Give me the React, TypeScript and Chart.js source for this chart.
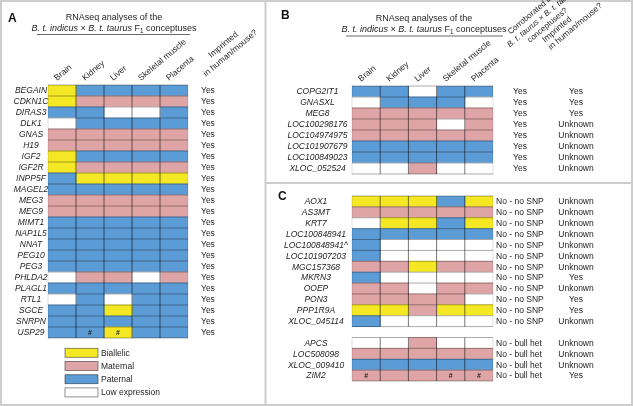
import { useEffect, useRef } from 'react';
import { Chart, registerables } from 'chart.js';
Chart.register(...registerables);

// ---------- data ----------
const TISSUES = ['Brain', 'Kidney', 'Liver', 'Skeletal muscle', 'Placenta'];
// status codes per tissue: Y = biallelic, M = maternal, P = paternal, L = low expression
const LEGEND_KEYS = ['Y', 'M', 'P', 'L'];
const LEGEND_LABELS = ['Biallelic', 'Maternal', 'Paternal', 'Low expression'];

const A_GENES = ['BEGAIN', 'CDKN1C', 'DIRAS3', 'DLK1', 'GNAS', 'H19', 'IGF2', 'IGF2R', 'INPP5F', 'MAGEL2', 'MEG3', 'MEG9', 'MIMT1', 'NAP1L5', 'NNAT', 'PEG10', 'PEG3', 'PHLDA2', 'PLAGL1', 'RTL1', 'SGCE', 'SNRPN', 'USP29'];
const A_STATUS = ['YPPPP', 'YMMMM', 'PPLLP', 'LPPPP', 'MMMMM', 'MMMMM', 'YPPPP', 'YMMMM', 'PYYYY', 'PPPPP', 'MMMMM', 'MMMMM', 'PPPPP', 'PPPPP', 'PPPPP', 'PPPPP', 'PPPPP', 'LMMLM', 'PPPPP', 'LPLPP', 'PPYPP', 'PPPPP', 'PPYPP'];
const A_IMPRINTED = ['Yes', 'Yes', 'Yes', 'Yes', 'Yes', 'Yes', 'Yes', 'Yes', 'Yes', 'Yes', 'Yes', 'Yes', 'Yes', 'Yes', 'Yes', 'Yes', 'Yes', 'Yes', 'Yes', 'Yes', 'Yes', 'Yes', 'Yes'];
const A_HASH: [string, number][] = [['USP29', 1], ['USP29', 2]];

const B_GENES = ['COPG2IT1', 'GNASXL', 'MEG8', 'LOC100298176', 'LOC104974975', 'LOC101907679', 'LOC100849023', 'XLOC_052524'];
const B_STATUS = ['PPLPP', 'LPPPL', 'MMMMM', 'MMMLM', 'MMMMM', 'PPPPP', 'PPPPP', 'LLMLL'];
const B_CORROB = ['Yes', 'Yes', 'Yes', 'Yes', 'Yes', 'Yes', 'Yes', 'Yes'];
const B_IMPRINTED = ['Yes', 'Yes', 'Yes', 'Unknown', 'Unknown', 'Unknown', 'Unknown', 'Unknown'];

const C_GENES = ['AOX1', 'AS3MT', 'KRT7', 'LOC100848941', 'LOC100848941^', 'LOC101907203', 'MGC157368', 'MKRN3', 'OOEP', 'PON3', 'PPP1R9A', 'XLOC_045114', '', 'APCS', 'LOC508098', 'XLOC_009410', 'ZIM2'];
const C_STATUS = ['YYYPY', 'MMMMM', 'LYYPY', 'PPPPP', 'PLLLL', 'PLLLL', 'MMYMM', 'PLLLL', 'MMLMM', 'MMMML', 'YYMYY', 'PLLLL', '', 'LLMLL', 'MMMMM', 'PPPPP', 'MMMMM'];
const C_CORROB = ['No - no SNP', 'No - no SNP', 'No - no SNP', 'No - no SNP', 'No - no SNP', 'No - no SNP', 'No - no SNP', 'No - no SNP', 'No - no SNP', 'No - no SNP', 'No - no SNP', 'No - no SNP', '', 'No - bull het', 'No - bull het', 'No - bull het', 'No - bull het'];
const C_IMPRINTED = ['Unknown', 'Unknown', 'Unknown', 'Unknown', 'Unkonwn', 'Unknown', 'Unknown', 'Yes', 'Unkonwn', 'Yes', 'Yes', 'Unkonwn', '', 'Unknown', 'Unknown', 'Unknown', 'Yes'];
const C_HASH: [string, number][] = [['ZIM2', 0], ['ZIM2', 3], ['ZIM2', 4]];

// ---------- styles ----------
const FONT = '"Liberation Sans", Arial, Helvetica, sans-serif';
const COLORS: Record<string, string> = { Y: '#f4e824', M: '#dfa4a5', P: '#5b9bd6', L: '#ffffff' };
const TXT = '#1e1e1e';
const FS = 8.5;
const ANG = 40;

type Seg = { t: string; i?: boolean; sub?: boolean };

function font(size: number, italic = false, bold = false) {
  return `${italic ? 'italic ' : ''}${bold ? 'bold ' : ''}${size}px ${FONT}`;
}

function drawRich(ctx: CanvasRenderingContext2D, segs: Seg[], x: number, y: number, align: string, size: number) {
  const widths = segs.map((s) => {
    ctx.font = font(s.sub ? size * 0.7 : size, !!s.i);
    return ctx.measureText(s.t).width;
  });
  const total = widths.reduce((a, b) => a + b, 0);
  let cx = align === 'center' ? x - total / 2 : align === 'right' ? x - total : x;
  ctx.textAlign = 'left';
  ctx.textBaseline = 'alphabetic';
  segs.forEach((s, k) => {
    ctx.font = font(s.sub ? size * 0.7 : size, !!s.i);
    ctx.fillText(s.t, cx, y + (s.sub ? size * 0.25 : 0));
    cx += widths[k];
  });
}

function rotRich(ctx: CanvasRenderingContext2D, lines: Seg[][], x: number, y: number, deg: number, align: string, lh: number, size: number) {
  ctx.save();
  ctx.translate(x, y);
  ctx.rotate((-deg * Math.PI) / 180);
  const n = lines.length;
  lines.forEach((l, k) => drawRich(ctx, l, 0, -(n - 1 - k) * lh, align, size));
  ctx.restore();
}

const TITLE2: Seg[] = [{ t: 'B. t. indicus', i: true }, { t: ' × ' }, { t: 'B. t. taurus', i: true }, { t: ' F' }, { t: '1', sub: true }, { t: ' conceptuses' }];

function rowH(chart: any) {
  const ys = chart.scales.y;
  return (ys.bottom - ys.top) / ys.getLabels().length;
}

function drawGrid(chart: any, status: string[]) {
  const { ctx } = chart;
  const xs = chart.scales.x;
  const ys = chart.scales.y;
  const h = rowH(chart);
  const n = status.length;
  const x0 = xs.getPixelForValue(0);
  const x5 = xs.getPixelForValue(5);
  const hp = new Path2D();
  const vp = new Path2D();
  const op = new Path2D();
  let i = 0;
  while (i < n) {
    if (!status[i]) { i++; continue; }
    let j = i;
    while (j < n && status[j]) j++;
    const top = ys.getPixelForValue(i) - h / 2;
    const bot = ys.getPixelForValue(j - 1) + h / 2;
    for (let k = i; k <= j; k++) {
      const y = k === j ? bot : ys.getPixelForValue(k) - h / 2;
      hp.moveTo(x0, y);
      hp.lineTo(x5, y);
    }
    for (let c = 1; c <= 4; c++) {
      const x = xs.getPixelForValue(c);
      vp.moveTo(x, top);
      vp.lineTo(x, bot);
    }
    op.moveTo(x0, top); op.lineTo(x0, bot);
    op.moveTo(x5, top); op.lineTo(x5, bot);
    i = j;
  }
  ctx.save();
  ctx.lineWidth = 1;
  ctx.strokeStyle = 'rgba(0,0,0,0.33)';
  ctx.stroke(hp);
  ctx.lineWidth = 0.9;
  ctx.strokeStyle = 'rgba(0,0,0,0.6)';
  ctx.stroke(vp);
  ctx.lineWidth = 0.8;
  ctx.strokeStyle = 'rgba(0,0,0,0.15)';
  ctx.stroke(op);
  ctx.restore();
}

function drawHashes(chart: any, genes: string[], hashes: [string, number][]) {
  const { ctx } = chart;
  const xs = chart.scales.x;
  const ys = chart.scales.y;
  ctx.save();
  ctx.font = font(7, false, true);
  ctx.fillStyle = TXT;
  ctx.textAlign = 'center';
  ctx.textBaseline = 'middle';
  hashes.forEach(([g, c]) => {
    const gi = genes.indexOf(g);
    ctx.fillText('#', xs.getPixelForValue(c + 0.5), ys.getPixelForValue(gi) + 0.5);
  });
  ctx.restore();
}

function drawRowTexts(chart: any, texts: string[], x: number, align: CanvasTextAlign, italic: boolean) {
  const { ctx } = chart;
  const ys = chart.scales.y;
  ctx.save();
  ctx.font = font(FS, italic);
  ctx.fillStyle = TXT;
  ctx.textAlign = align;
  ctx.textBaseline = 'middle';
  texts.forEach((t, i) => { if (t) ctx.fillText(t, x, ys.getPixelForValue(i) + 0.5); });
  ctx.restore();
}

function drawColHeaders(chart: any, baseY: number) {
  const { ctx } = chart;
  const xs = chart.scales.x;
  ctx.save();
  ctx.fillStyle = TXT;
  TISSUES.forEach((t, ti) => {
    rotRich(ctx, [[{ t }]], xs.getPixelForValue(ti + 0.5) - 5, baseY, ANG, 'left', 11, FS);
  });
  ctx.restore();
}

function makeChart(canvas: HTMLCanvasElement, genes: string[], status: string[], pad: any, draw: (chart: any) => void, before?: (chart: any) => void) {
  return new Chart(canvas, {
    type: 'bar',
    data: {
      labels: genes,
      datasets: TISSUES.map((t, ti) => ({
        label: t,
        data: genes.map((_, gi) => (status[gi] ? 1 : null)),
        backgroundColor: genes.map((_, gi) => (status[gi] ? COLORS[status[gi][ti]] : 'rgba(0,0,0,0)')),
        borderWidth: 0,
        barPercentage: 1,
        categoryPercentage: 1,
        inflateAmount: 0.4,
      })),
    },
    options: {
      indexAxis: 'y',
      responsive: false,
      animation: false,
      devicePixelRatio: 1,
      events: [],
      layout: { padding: pad },
      scales: {
        x: { type: 'linear', min: 0, max: 5, stacked: true, display: false },
        y: { type: 'category', stacked: true, display: false, offset: true },
      },
      plugins: { legend: { display: false }, tooltip: { enabled: false } },
    } as any,
    plugins: [{
      id: 'panel',
      beforeDraw: (chart: any) => { if (before) before(chart); },
      afterDatasetsDraw: (chart: any) => draw(chart),
    }],
  });
}

function drawFrame(chart: any) {
  const { ctx } = chart;
  ctx.save();
  ctx.fillStyle = '#ffffff';
  ctx.fillRect(0, 0, 633, 406);
  ctx.strokeStyle = '#cdcdcd';
  ctx.lineWidth = 2;
  ctx.strokeRect(1, 1, 631, 404);
  ctx.beginPath();
  ctx.moveTo(265.5, 0); ctx.lineTo(265.5, 406);
  ctx.moveTo(265, 183); ctx.lineTo(633, 183);
  ctx.stroke();
  ctx.restore();
}

function drawTitle(ctx: CanvasRenderingContext2D, cx: number, y1: number, y2: number, uy: number, ux0: number, ux1: number) {
  ctx.save();
  ctx.fillStyle = TXT;
  drawRich(ctx, [{ t: 'RNAseq analyses of the' }], cx, y1, 'center', 9);
  drawRich(ctx, TITLE2, cx, y2, 'center', 9);
  ctx.strokeStyle = '#444';
  ctx.lineWidth = 0.8;
  ctx.beginPath();
  ctx.moveTo(ux0, uy); ctx.lineTo(ux1, uy);
  ctx.stroke();
  ctx.restore();
}

function panelLetter(ctx: CanvasRenderingContext2D, l: string, x: number, y: number) {
  ctx.save();
  ctx.fillStyle = '#111';
  ctx.font = font(12, false, true);
  ctx.textAlign = 'left';
  ctx.textBaseline = 'alphabetic';
  ctx.fillText(l, x, y);
  ctx.restore();
}

function drawA(chart: any) {
  const { ctx } = chart;
  drawGrid(chart, A_STATUS);
  drawHashes(chart, A_GENES, A_HASH);
  drawRowTexts(chart, A_GENES, 31, 'center', true);
  drawRowTexts(chart, A_IMPRINTED, 201, 'left', false);
  panelLetter(ctx, 'A', 8, 22);
  drawTitle(ctx, 114, 20, 31, 34.5, 37, 190);
  drawColHeaders(chart, chart.chartArea.top - 4);
  ctx.save();
  ctx.fillStyle = TXT;
  rotRich(ctx, [[{ t: 'Imprinted' }], [{ t: 'in human/mouse?' }]], 232, 55, ANG, 'center', 11, FS);
  // legend
  LEGEND_KEYS.forEach((k, i) => {
    const cy = 352.8 + i * 13.2;
    ctx.fillStyle = COLORS[k];
    ctx.fillRect(65, cy - 4.5, 33, 9);
    ctx.strokeStyle = 'rgba(0,0,0,0.55)';
    ctx.lineWidth = 0.8;
    ctx.strokeRect(65, cy - 4.5, 33, 9);
    ctx.fillStyle = TXT;
    ctx.font = font(FS);
    ctx.textAlign = 'left';
    ctx.textBaseline = 'middle';
    ctx.fillText(LEGEND_LABELS[i], 101, cy + 0.5);
  });
  ctx.restore();
}

function drawB(chart: any) {
  const { ctx } = chart;
  drawGrid(chart, B_STATUS);
  drawRowTexts(chart, B_GENES, 317.5, 'center', true);
  drawRowTexts(chart, B_CORROB, 520, 'center', false);
  drawRowTexts(chart, B_IMPRINTED, 576, 'center', false);
  panelLetter(ctx, 'B', 281, 18.5);
  drawTitle(ctx, 424, 21, 32, 36, 346, 503);
  drawColHeaders(chart, chart.chartArea.top - 4);
  ctx.save();
  ctx.fillStyle = TXT;
  rotRich(ctx, [
    [{ t: 'Corroborated in the' }],
    [{ t: 'B. t. taurus', i: true }, { t: ' × ' }, { t: 'B. t. taurus', i: true }],
    [{ t: 'conceptuses?' }],
  ], 549, 27, ANG, 'center', 9.5, 8);
  rotRich(ctx, [[{ t: 'Imprinted' }], [{ t: 'in human/mouse?' }]], 551, 50, ANG, 'left', 9.5, FS);
  ctx.restore();
}

function drawC(chart: any) {
  const { ctx } = chart;
  drawGrid(chart, C_STATUS);
  drawHashes(chart, C_GENES, C_HASH);
  drawRowTexts(chart, C_GENES, 316, 'center', true);
  drawRowTexts(chart, C_CORROB, 496, 'left', false);
  drawRowTexts(chart, C_IMPRINTED, 576, 'center', false);
  panelLetter(ctx, 'C', 278, 199.5);
}

export default function App() {
  const refA = useRef<HTMLCanvasElement>(null);
  const refB = useRef<HTMLCanvasElement>(null);
  const refC = useRef<HTMLCanvasElement>(null);
  useEffect(() => {
    const charts = [
      makeChart(refA.current!, A_GENES, A_STATUS, { left: 48, right: 445, top: 85, bottom: 68 }, drawA, drawFrame),
      makeChart(refB.current!, B_GENES, B_STATUS, { left: 352, right: 140, top: 86, bottom: 232 }, drawB),
      makeChart(refC.current!, C_GENES, C_STATUS, { left: 352, right: 140, top: 196, bottom: 25 }, drawC),
    ];
    return () => charts.forEach((c) => c.destroy());
  }, []);
  const cs: any = { position: 'absolute', left: 0, top: 0, width: 633, height: 406 };
  return (
    <div style={{ position: 'absolute', left: 0, top: 0, width: 633, height: 406, background: '#fff', overflow: 'hidden' }}>
      <canvas ref={refA} width={633} height={406} style={cs} />
      <canvas ref={refB} width={633} height={406} style={cs} />
      <canvas ref={refC} width={633} height={406} style={cs} />
    </div>
  );
}
